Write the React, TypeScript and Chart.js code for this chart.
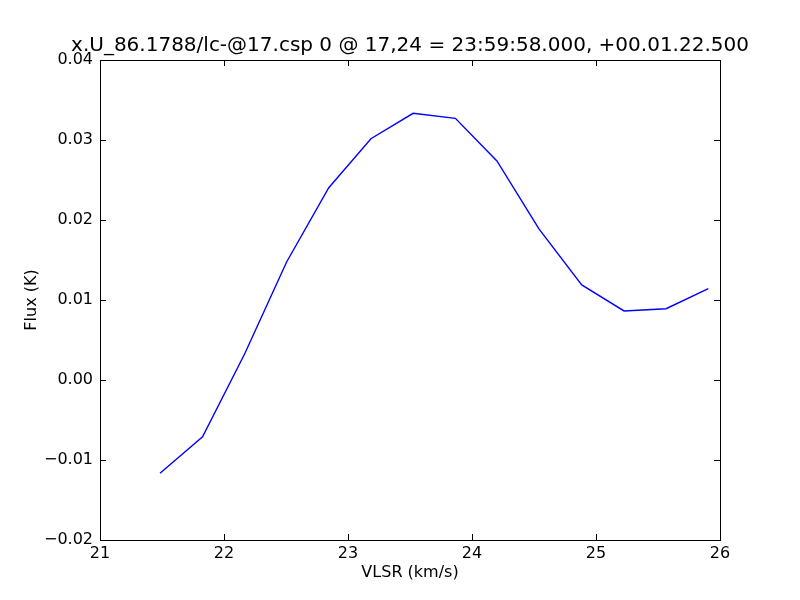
import React, { useEffect, useRef } from "react";
import { Chart, registerables } from "chart.js";

Chart.register(...registerables);

const titleText = "x.U_86.1788/lc-@17.csp 0 @ 17,24 = 23:59:58.000, +00.01.22.500";
const xLabel = "VLSR (km/s)";
const yLabel = "Flux (K)";

const velocity = [21.484, 21.827, 22.166, 22.505, 22.845, 23.185, 23.525, 23.866, 24.201, 24.540, 24.885, 25.226, 25.565, 25.906];
const flux = [-0.01166, -0.00709, 0.00325, 0.01475, 0.02404, 0.03016, 0.03334, 0.03271, 0.02738, 0.01888, 0.01188, 0.00863, 0.00891, 0.01141];

const xMin = 21, xMax = 26, xStep = 1;
const yMin = -0.02, yMax = 0.04, yStep = 0.01;

const FONT = "'DejaVu Sans', sans-serif";

const frameTicks = {
  id: "frameTicks",
  afterDraw(chart: any) {
    const { ctx, chartArea } = chart;
    const { left, right, top, bottom } = chartArea;
    const xs = chart.scales.x;
    const ys = chart.scales.y;
    const len = 6;
    ctx.save();
    ctx.strokeStyle = "#000";
    ctx.lineWidth = 1;
    ctx.beginPath();
    xs.ticks.forEach((t: any) => {
      const px = Math.round(xs.getPixelForValue(t.value)) + 0.5;
      ctx.moveTo(px, bottom);
      ctx.lineTo(px, bottom - len);
      ctx.moveTo(px, top);
      ctx.lineTo(px, top + len);
    });
    ys.ticks.forEach((t: any) => {
      const py = Math.round(ys.getPixelForValue(t.value)) + 0.5;
      ctx.moveTo(left, py);
      ctx.lineTo(left + len, py);
      ctx.moveTo(right, py);
      ctx.lineTo(right - len, py);
    });
    ctx.stroke();
    ctx.lineWidth = 1;
    ctx.strokeRect(Math.round(left) + 0.5, Math.round(top) + 0.5, Math.round(right - left), Math.round(bottom - top));
    ctx.restore();
  },
};

export default function App() {
  const ref = useRef<HTMLCanvasElement>(null);
  useEffect(() => {
    if (!ref.current) return;
    const chart = new Chart(ref.current, {
      type: "line",
      data: {
        datasets: [
          {
            data: velocity.map((v, i) => ({ x: v, y: flux[i] })),
            borderColor: "#0000ff",
            borderWidth: 1.4,
            pointRadius: 0,
            tension: 0,
            fill: false,
          },
        ],
      },
      options: {
        animation: false,
        responsive: false,
        maintainAspectRatio: false,
        layout: { padding: { left: 20, top: 0, right: 0, bottom: 0 } },
        plugins: {
          legend: { display: false },
          tooltip: { enabled: false },
          title: {
            display: true,
            text: titleText,
            fullSize: true,
            color: "#000",
            font: { family: FONT, size: 20, weight: "normal", lineHeight: 1.2 },
            padding: { top: 34, bottom: 2 },
          },
        },
        scales: {
          x: {
            type: "linear",
            min: xMin,
            max: xMax,
            grid: { display: false, drawTicks: false },
            border: { display: false },
            ticks: {
              stepSize: xStep,
              color: "#000",
              padding: 4,
              maxRotation: 0,
              font: { family: FONT, size: 16 },
              callback: (v: any) => String(v),
            },
            title: {
              display: true,
              text: xLabel,
              color: "#000",
              font: { family: FONT, size: 16, lineHeight: 1.2 },
              padding: { top: 0, bottom: 18 },
            },
            afterFit: (s: any) => {
              s.height = 60;
            },
          },
          y: {
            type: "linear",
            position: "left",
            min: yMin,
            max: yMax,
            grid: { display: false, drawTicks: false },
            border: { display: false },
            ticks: {
              stepSize: yStep,
              color: "#000",
              padding: 7,
              font: { family: FONT, size: 16 },
              callback: (v: any) => {
                const n = Number(v);
                if (Math.abs(n) < 1e-9) return "0.00";
                return n < 0 ? "\u2212" + Math.abs(n).toFixed(2) : n.toFixed(2);
              },
            },
            title: {
              display: true,
              text: yLabel,
              color: "#000",
              font: { family: FONT, size: 16, lineHeight: 1.2 },
              padding: { top: 2, bottom: 0 },
            },
            afterFit: (s: any) => {
              s.width = 80;
            },
          },
          yRight: {
            type: "linear",
            position: "right",
            min: yMin,
            max: yMax,
            grid: { display: false, drawTicks: false },
            border: { display: false },
            ticks: { display: false },
            afterFit: (s: any) => {
              s.width = 80;
            },
          },
        },
      },
      plugins: [frameTicks],
    });
    return () => chart.destroy();
  }, []);
  return (
    <div style={{ position: "absolute", left: 0, top: 0, width: 800, height: 600, background: "#fff" }}>
      <canvas ref={ref} width={800} height={600} />
    </div>
  );
}
